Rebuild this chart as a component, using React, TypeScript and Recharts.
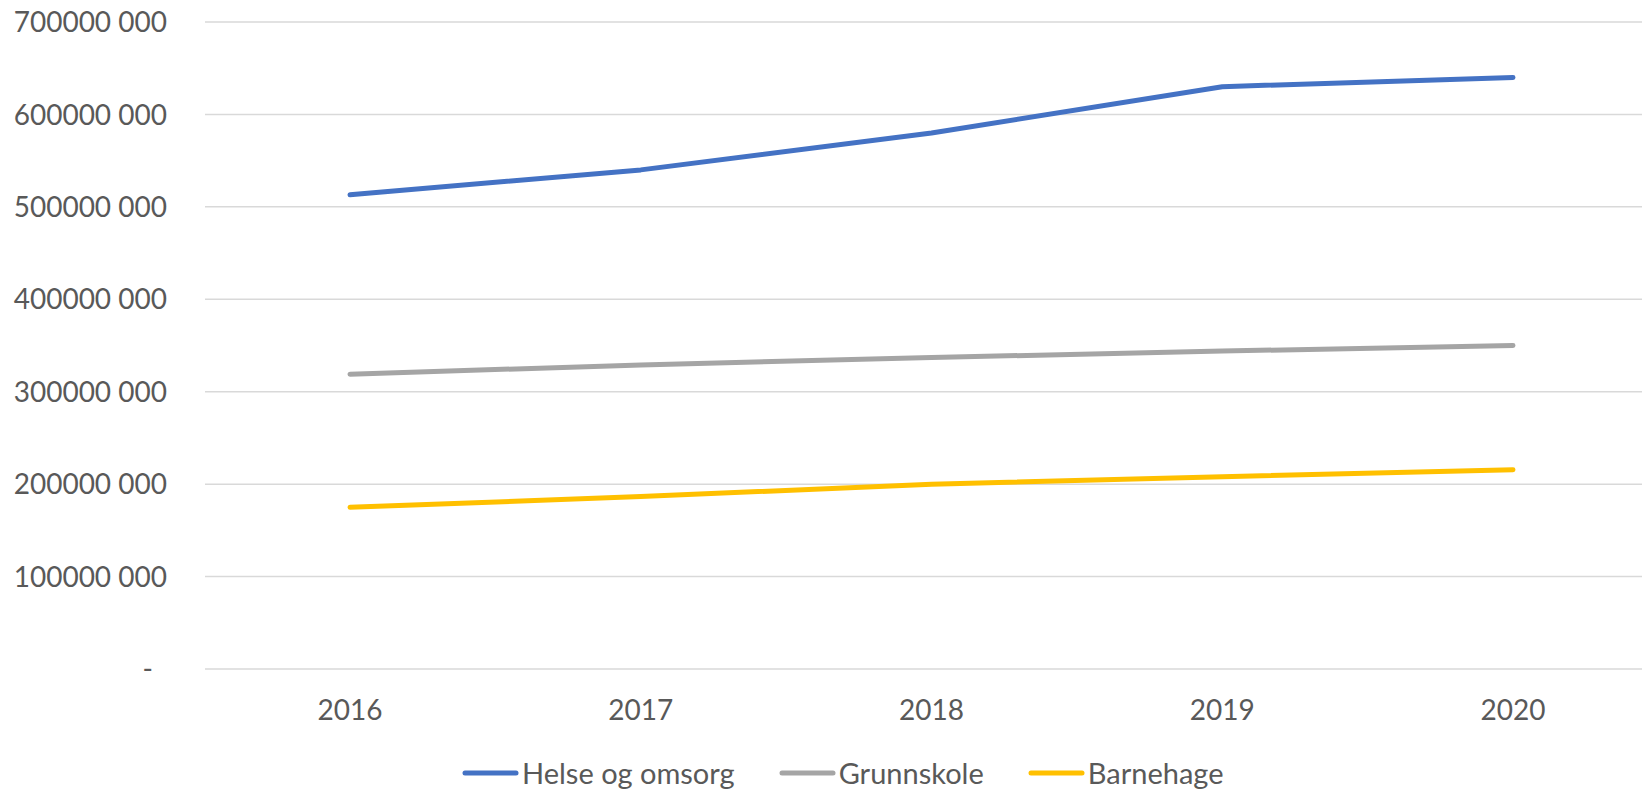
import React from 'react';
import { LineChart, Line, XAxis, YAxis, CartesianGrid, Legend } from 'recharts';

const years = ['2016', '2017', '2018', '2019', '2020'];
const helseOgOmsorg = [513000000, 540000000, 580000000, 630000000, 640000000];
const grunnskole = [319000000, 329000000, 337000000, 344000000, 350000000];
const barnehage = [175000000, 186500000, 200000000, 208000000, 215500000];
const yTicks = [0, 100000000, 200000000, 300000000, 400000000, 500000000, 600000000, 700000000];
const seriesNames = ['Helse og omsorg', 'Grunnskole', 'Barnehage'];

const data = years.map((year, i) => ({
  year,
  helse: helseOgOmsorg[i],
  grunnskole: grunnskole[i],
  barnehage: barnehage[i],
}));

const FONT = 'Lato, "Open Sans", sans-serif';
const TEXT = '#595959';

// 700000000 -> "700000 000", 0 -> "-"
const formatValue = (v: number) => {
  if (v === 0) return '-';
  const rest = String(v % 1000).padStart(3, '0');
  return `${Math.floor(v / 1000)} ${rest}`;
};

const YTick = ({ x, y, payload }: any) => (
  <text
    x={payload.value === 0 ? x - 14 : x}
    y={y}
    dy="0.36em"
    textAnchor="end"
    fill={TEXT}
    fontSize={28}
    fontFamily={FONT}
  >
    {formatValue(payload.value)}
  </text>
);

const XTick = ({ x, y, payload }: any) => (
  <text x={x} y={y + 51} textAnchor="middle" fill={TEXT} fontSize={28} fontFamily={FONT}>
    {payload.value}
  </text>
);

const LegendContent = ({ payload }: any) => {
  const items = [...(payload || [])].sort(
    (a: any, b: any) => seriesNames.indexOf(a.value) - seriesNames.indexOf(b.value),
  );
  return (
    <div style={{ height: 60, boxSizing: 'border-box', paddingTop: 28, paddingLeft: 462, display: 'flex', alignItems: 'center' }}>
      {items.map((item: any) => (
        <div key={item.value} style={{ display: 'flex', alignItems: 'center', height: 32, marginRight: 44 }}>
          <svg width={57} height={10} style={{ marginRight: 3 }}>
            <line x1={3} y1={5} x2={54} y2={5} stroke={item.color} strokeWidth={5} strokeLinecap="round" />
          </svg>
          <span style={{ fontFamily: FONT, fontSize: 29, color: TEXT, lineHeight: '32px' }}>{item.value}</span>
        </div>
      ))}
    </div>
  );
};

export default function App() {
  return (
    <div style={{ position: 'absolute', left: 0, top: 0, background: '#fff' }}>
      <LineChart width={1642} height={789} data={data} margin={{ top: 22, right: 0, bottom: 0, left: 0 }}>
        <CartesianGrid vertical={false} stroke="#d9d9d9" strokeWidth={1.5} />
        <XAxis
          dataKey="year"
          scale="point"
          padding={{ left: 145, right: 129 }}
          axisLine={false}
          tickLine={false}
          tickSize={0}
          tickMargin={0}
          height={60}
          tick={<XTick />}
        />
        <YAxis
          domain={[0, 700000000]}
          ticks={yTicks}
          width={205}
          axisLine={false}
          tickLine={false}
          tickSize={0}
          tickMargin={38}
          tick={<YTick />}
        />
        <Legend verticalAlign="bottom" content={<LegendContent />} />
        <Line type="linear" dataKey="helse" name={seriesNames[0]} stroke="#4472C4" strokeWidth={5} strokeLinecap="round" strokeLinejoin="round" dot={false} isAnimationActive={false} />
        <Line type="linear" dataKey="grunnskole" name={seriesNames[1]} stroke="#A5A5A5" strokeWidth={5} strokeLinecap="round" strokeLinejoin="round" dot={false} isAnimationActive={false} />
        <Line type="linear" dataKey="barnehage" name={seriesNames[2]} stroke="#FFC000" strokeWidth={5} strokeLinecap="round" strokeLinejoin="round" dot={false} isAnimationActive={false} />
      </LineChart>
    </div>
  );
}
